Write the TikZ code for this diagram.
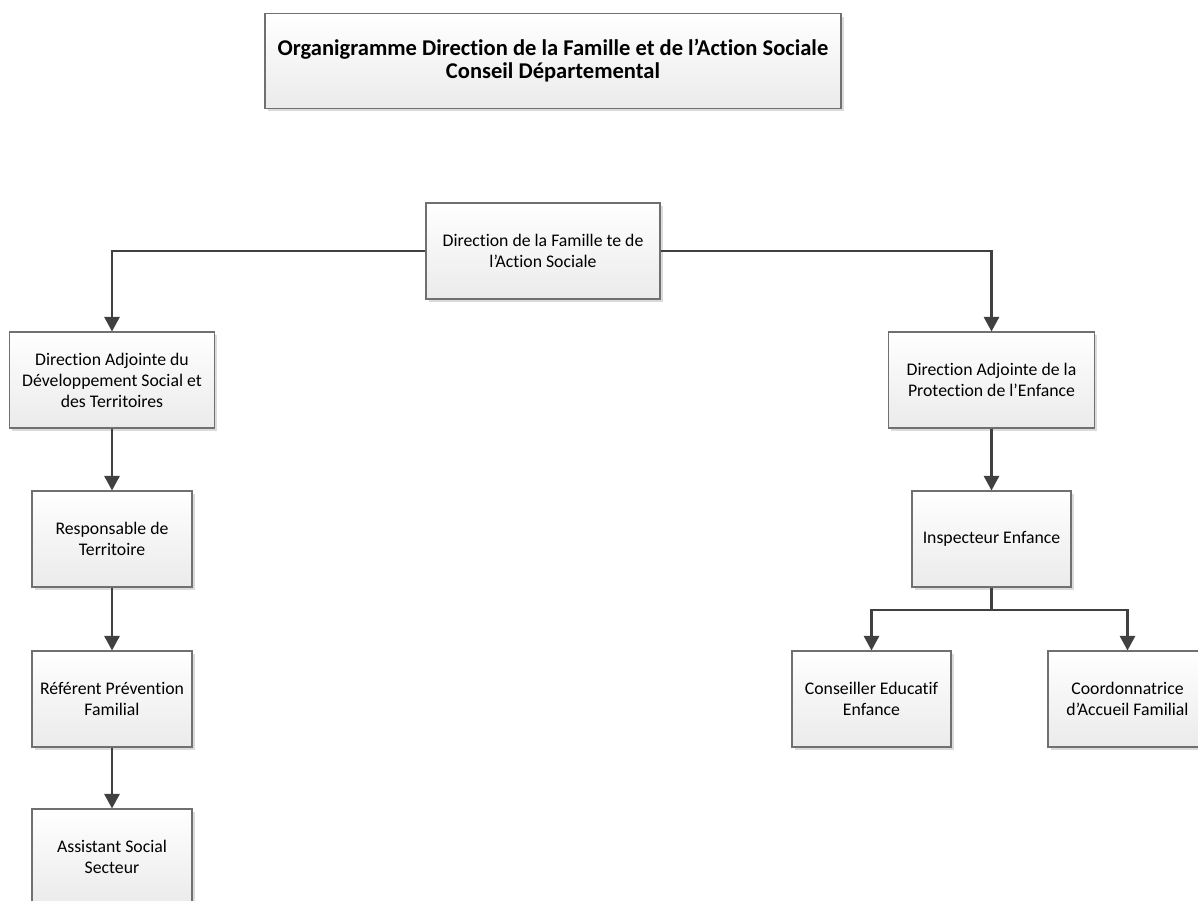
\documentclass[tikz,border=0pt]{standalone}
\usepackage{fontspec}
\setmainfont[Ligatures=NoCommon]{Carlito}
\usetikzlibrary{arrows.meta,shadows}

\definecolor{edgegray}{HTML}{707070}
\definecolor{linegray}{HTML}{404040}

\begin{document}
\begin{tikzpicture}[x=0.75pt,y=-0.75pt,
    box/.style={draw=edgegray, line width=0.8pt, top color=white, bottom color=black!8,
        drop shadow={fill=black!14, opacity=1, shadow xshift=2.2pt, shadow yshift=-2.2pt},
        align=center, inner sep=2pt, minimum height=72pt,
        font=\fontsize{13.3}{15.8}\selectfont},
    conn/.style={draw=linegray, line width=1.7pt, -{Triangle[width=11.5pt,length=11pt]}},
    link/.style={draw=linegray, line width=1.7pt}]

\useasboundingbox (0,0) rectangle (1198,900);

% titre
\node[box, minimum width=432pt, minimum height=71pt, font=\fontsize{16.9}{17.2}\selectfont\bfseries]
    (titre) at (553,61) {Organigramme Direction de la Famille et de l’Action Sociale\\Conseil Départemental};

% direction
\node[box, minimum width=175.5pt] (dfas) at (543,251) {Direction de la Famille te de\\l’Action Sociale};

% branche gauche
\node[box, minimum width=153.75pt] (dadst) at (112,380) {Direction Adjointe du\\Développement Social et\\des Territoires};
\node[box, minimum width=120pt] (resp) at (112,539) {Responsable de\\Territoire};
\node[box, minimum width=120pt] (refp) at (112,699) {Référent Prévention\\Familial};
\node[box, minimum width=120pt] (asst) at (112,857) {Assistant Social\\Secteur};

% branche droite
\node[box, minimum width=154.5pt] (dape) at (991.5,380) {Direction Adjointe de la\\Protection de l’Enfance};
\node[box, minimum width=119.25pt] (insp) at (991.5,539) {Inspecteur Enfance};
\node[box, minimum width=119.25pt] (cons) at (871.5,699) {Conseiller Educatif\\Enfance};
\node[box, minimum width=119.25pt] (coord) at (1127.5,699) {Coordonnatrice\\d’Accueil Familial};

\coordinate (split) at (991.5,610);

\draw[conn] (dfas.west) -| (dadst.north);
\draw[conn] (dfas.east) -| (dape.north);

\draw[conn] (dadst) -- (resp);
\draw[conn] (resp) -- (refp);
\draw[conn] (refp) -- (asst);

\draw[conn] (dape) -- (insp);
\draw[link] (insp.south) -- (split);
\draw[conn] (split) -| (cons.north);
\draw[conn] (split) -| (coord.north);
\end{tikzpicture}
\end{document}
